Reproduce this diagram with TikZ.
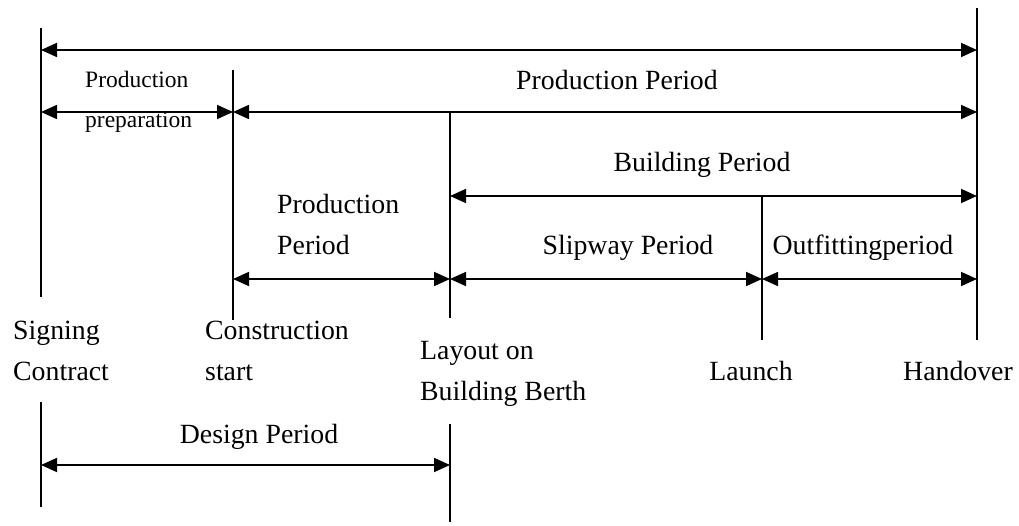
\documentclass[tikz,border=0pt]{standalone}
\usepackage{fontspec}
\setmainfont{Liberation Serif}
\usetikzlibrary{arrows.meta}
\begin{document}
\begin{tikzpicture}[x=1pt,y=-1pt,
  vline/.style={line width=1.7pt},
  span/.style={line width=1.7pt,{Triangle[length=16pt,width=14pt]}-{Triangle[length=16pt,width=14pt]}},
  lbl/.style={inner sep=0pt,font=\fontsize{27.8}{33}\selectfont},
  slbl/.style={inner sep=0pt,font=\fontsize{23.5}{28}\selectfont}]
\useasboundingbox (0,0) rectangle (1019,526);
% vertical milestone lines
\coordinate (A1) at (41,28);  \coordinate (A2) at (41,297);
\coordinate (A3) at (41,402); \coordinate (A4) at (41,507);
\coordinate (B1) at (233,70); \coordinate (B2) at (233,320);
\coordinate (C1) at (450,112); \coordinate (C2) at (450,318);
\coordinate (C3) at (450,424); \coordinate (C4) at (450,522);
\coordinate (D1) at (762,196); \coordinate (D2) at (762,340);
\coordinate (E1) at (977,8);  \coordinate (E2) at (977,340);
\draw[vline] (A1) -- (A2);
\draw[vline] (A3) -- (A4);
\draw[vline] (B1) -- (B2);
\draw[vline] (C1) -- (C2);
\draw[vline] (C3) -- (C4);
\draw[vline] (D1) -- (D2);
\draw[vline] (E1) -- (E2);
% rows
\coordinate (r1) at (0,50);
\coordinate (r2) at (0,112);
\coordinate (r3) at (0,196);
\coordinate (r4) at (0,279);
\coordinate (r5) at (0,465);
\draw[span] (A1 |- r1) -- (E1 |- r1);
\draw[span] (A1 |- r2) -- (B1 |- r2);
\draw[span] (B1 |- r2) -- (E1 |- r2);
\draw[span] (C1 |- r3) -- (E1 |- r3);
\draw[span] (B1 |- r4) -- (C1 |- r4);
\draw[span] (C1 |- r4) -- (D1 |- r4);
\draw[span] (D1 |- r4) -- (E1 |- r4);
\draw[span] (A3 |- r5) -- (C3 |- r5);
% labels
\node[lbl,anchor=base] (pp) at (617,90) {Production Period};
\node[slbl,anchor=base west] (prep1) at (85,88) {Production};
\node[slbl,anchor=base west] (prep2) at (85,128) {preparation};
\node[lbl,anchor=base] (bp) at (702,172) {Building Period};
\node[lbl,anchor=base west] (prod1) at (277,214) {Production};
\node[lbl,anchor=base west] (prod2) at (277,255) {Period};
\node[lbl,anchor=base] (slip) at (628,255) {Slipway Period};
\node[lbl,anchor=base] (outf) at (863,255) {Outfittingperiod};
\node[lbl,anchor=base west] (sign1) at (13,339) {Signing};
\node[lbl,anchor=base west] (sign2) at (13,380) {Contract};
\node[lbl,anchor=base west] (cons1) at (205,339) {Construction};
\node[lbl,anchor=base west] (cons2) at (205,380) {start};
\node[lbl,anchor=base west] (lay1) at (420,359) {Layout on};
\node[lbl,anchor=base west] (lay2) at (420,400) {Building Berth};
\node[lbl,anchor=base] (launch) at (751,380) {Launch};
\node[lbl,anchor=base] (hand) at (958,380) {Handover};
\node[lbl,anchor=base] (design) at (259,443) {Design Period};
\end{tikzpicture}
\end{document}
